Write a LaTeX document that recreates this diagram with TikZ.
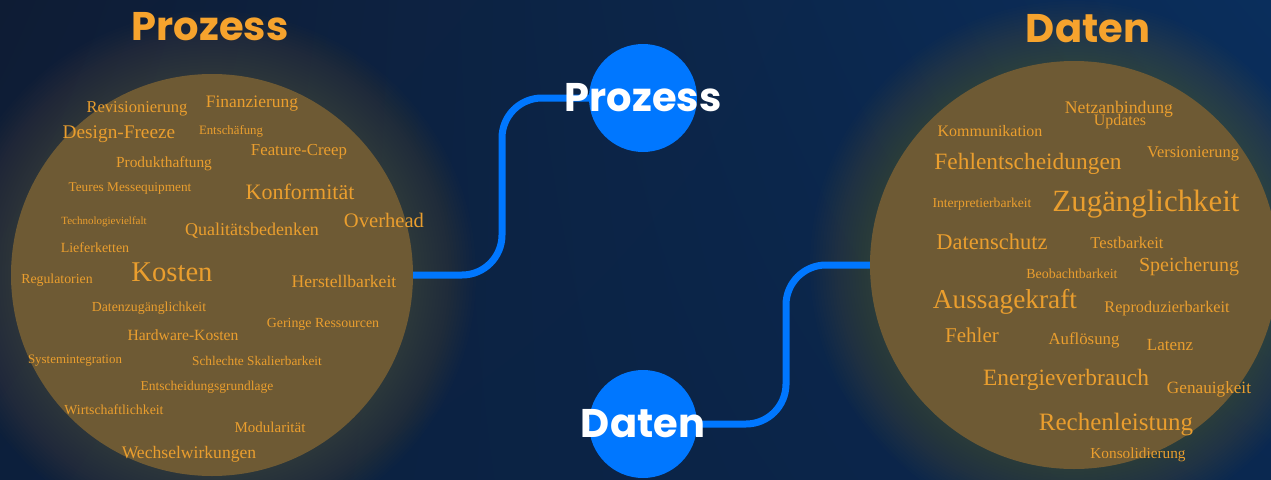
\documentclass[tikz,border=0pt]{standalone}
\usepackage{fontspec}
\setmainfont{Liberation Serif}
\newfontfamily\headfont{Poppins}
\usetikzlibrary{shadings}

\definecolor{navyTL}{RGB}{14,28,52}
\definecolor{navyBL}{RGB}{12,31,60}
\definecolor{navyTR}{RGB}{10,46,92}
\definecolor{navyBR}{RGB}{10,40,80}
\definecolor{cloudfill}{RGB}{110,90,52}
\definecolor{hazegold}{RGB}{200,148,58}
\definecolor{wordgold}{RGB}{234,158,46}
\definecolor{titlegold}{RGB}{246,163,45}
\definecolor{linkblue}{RGB}{0,119,255}

\pgfdeclarelayer{back}
\pgfdeclarelayer{wires}
\pgfsetlayers{back,wires,main}

\tikzset{
  wordcloud/.style={circle, fill=cloudfill, inner sep=0pt, minimum size=#1},
  word/.style={font=\fontsize{#1}{#1}\selectfont, text=wordgold, inner sep=0pt, yshift=-2pt},
  headline/.style={font=\headfont\bfseries\fontsize{40}{40}\selectfont, inner sep=0pt},
  bubble/.style={circle, fill=linkblue, inner sep=0pt, minimum size=108pt},
  wire/.style={draw=linkblue, line width=7pt, rounded corners=40pt},
}

\begin{document}
\begin{tikzpicture}[x=1pt, y=-1pt]
  \clip (0,0) rectangle (1271,479);
  \begin{pgfonlayer}{back}
    \shade[upper left=navyTL, upper right=navyTR, lower left=navyBL, lower right=navyBR]
      (0,0) rectangle (1271,479);
    % soft glow round both clouds
    \foreach \r in {204,207,...,266} {
      \fill[hazegold, opacity=0.012] (212,275) circle (\r);
      \fill[hazegold, opacity=0.012] (1074,265) circle (\r);
    }
    \node[wordcloud=402pt] (cloudP) at (212,275) {};
    \node[wordcloud=408pt] (cloudD) at (1074,265) {};
  \end{pgfonlayer}

  \node[bubble] (hubP) at (643,98) {};
  \node[bubble] (hubD) at (643,424) {};

  \coordinate (kneeP) at (502,190);
  \coordinate (kneeD) at (786,345);
  \begin{pgfonlayer}{wires}
    \draw[wire] (cloudP.east) -| (kneeP) |- (hubP.west);
    \draw[wire] (hubD.east) -| (kneeD) |- (cloudD.west);
  \end{pgfonlayer}

  \node[headline, text=white] (hubPtext) at (hubP) {Prozess};
  \node[headline, text=white] (hubDtext) at (hubD) {Daten};

  \node[headline, text=titlegold] (headP) at (210,27) {Prozess};
  \node[headline, text=titlegold] (headD) at (1088,29) {Daten};

  % words of the left cloud
  \foreach \t/\x/\y/\s [count=\i] in {
      Revisionierung/137/107/16.5, Finanzierung/252/102/17.5,
      Design-Freeze/119/132/19.3, Entschäfung/231/129/12.8,
      Feature-Creep/299/150/16.8, Produkthaftung/164/162/15.4,
      Teures Messequipment/130/187/13.3, Konformität/300/190/22,
      Technologievielfalt/104/220/11, Overhead/384/218/20.6,
      Qualitätsbedenken/252/229/18, Lieferketten/95/246/14,
      Kosten/172/270/28.6, Regulatorien/57/278/13.8,
      Herstellbarkeit/344/279/17.6, Datenzugänglichkeit/149/306/13.8,
      Geringe Ressourcen/323/322/13.9, Hardware-Kosten/183/333/15.6,
      Systemintegration/75/359/12.9, Schlechte Skalierbarkeit/257/359/13.3,
      Entscheidungsgrundlage/207/385/13.5, Wirtschaftlichkeit/114/408/13.8,
      Modularität/270/425/15, Wechselwirkungen/189/452/17.6}
    \node[word=\s] (wP\i) at (\x,\y) {\t};

  % words of the right cloud
  \foreach \t/\x/\y/\s [count=\i] in {
      Netzanbindung/1119/107/17.7, Updates/1120/120/15.9,
      Kommunikation/990/129/16, Versionierung/1193/152/16.4,
      Fehlentscheidungen/1028/162/23.4, Interpretierbarkeit/982/202/13.6,
      Zugänglichkeit/1146/202/30.9, Datenschutz/992/240/22.5,
      Testbarkeit/1127/241/16.5, Speicherung/1189/265/20,
      Beobachtbarkeit/1072/272/13.9, Aussagekraft/1005/300/27.3,
      Reproduzierbarkeit/1167/307/16.2, Fehler/972/333/21,
      Auflösung/1084/338/16.8, Latenz/1170/343/17,
      Energieverbrauch/1066/378/23.4, Genauigkeit/1209/387/17.2,
      Rechenleistung/1116/423/25, Konsolidierung/1138/453/15.3}
    \node[word=\s] (wD\i) at (\x,\y) {\t};
\end{tikzpicture}
\end{document}
